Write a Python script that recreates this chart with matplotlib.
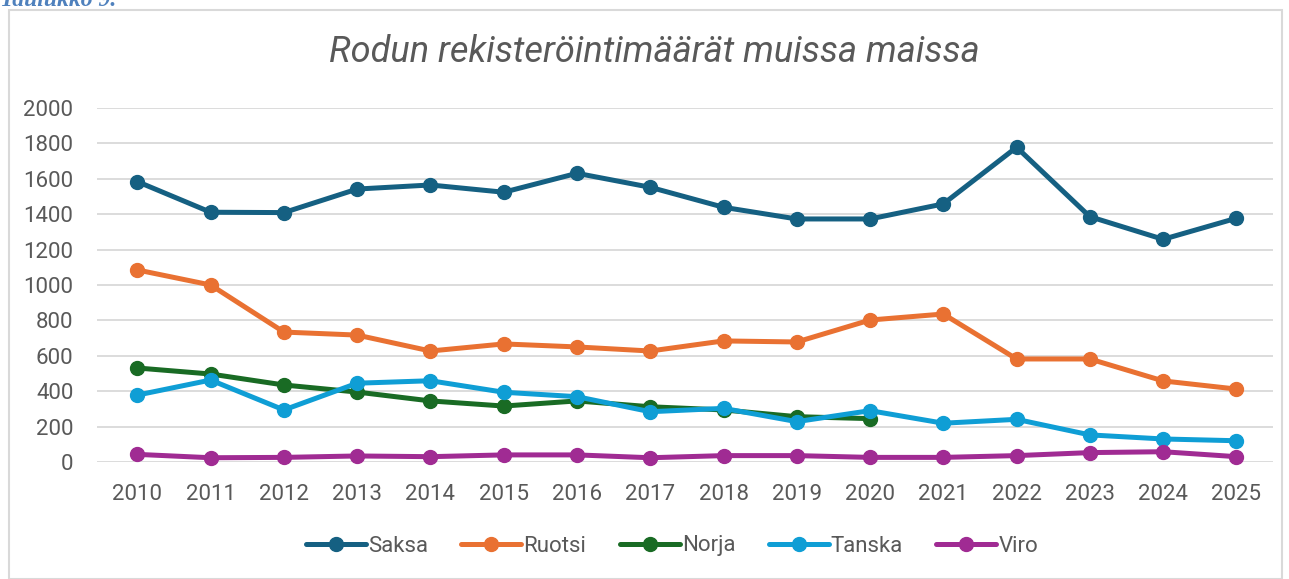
import matplotlib
matplotlib.use("Agg")
import matplotlib.pyplot as plt
from matplotlib.patches import Rectangle

years = list(range(2010, 2026))
saksa = [1584, 1411, 1409, 1542, 1565, 1524, 1631, 1552, 1439, 1373, 1373, 1458, 1778, 1386, 1258, 1377]
ruotsi = [1085, 1000, 734, 717, 627, 667, 650, 627, 684, 678, 802, 836, 582, 582, 458, 412]
norja_years = list(range(2010, 2021))
norja = [531, 497, 435, 395, 345, 316, 345, 312, 294, 256, 245]
tanska = [378, 463, 294, 445, 459, 394, 369, 284, 303, 228, 290, 219, 241, 153, 130, 120]
viro = [43, 24, 26, 34, 30, 40, 40, 24, 36, 36, 26, 26, 36, 53, 58, 30]

plt.rcParams['font.family'] = ['Roboto', 'DejaVu Sans']

fig = plt.figure(figsize=(12.89, 5.79), dpi=100)
ax = fig.add_axes([0.0753, 0.2021, 0.9123, 0.6114])

# chart border + cut-off caption above it
fig.patches.append(Rectangle((9/1289, 0), 1273/1289, 1 - 10/579, transform=fig.transFigure,
                             fill=False, edgecolor='#D9D9D9', linewidth=1.5))
fig.text(0.0, 1 - 6/579, "Taulukko 9.", color='#4F81BD', fontsize=17, style='italic',
         weight='bold', family='Liberation Serif', va='baseline')

series = [
    ("Saksa", years, saksa, '#156082'),
    ("Ruotsi", years, ruotsi, '#E97132'),
    ("Norja", norja_years, norja, '#196B24'),
    ("Tanska", years, tanska, '#0F9ED5'),
    ("Viro", years, viro, '#A02B93'),
]
for name, xs, ys, col in series:
    ax.plot(xs, ys, color=col, lw=3.6, marker='o', ms=10, label=name,
            solid_capstyle='round', clip_on=False)

ax.set_xlim(2009.45, 2025.5)
ax.set_ylim(0, 2000)
ax.set_yticks(range(0, 2001, 200))
ax.set_xticks(years)
ax.grid(axis='y', color='#D9D9D9', lw=1.3)
ax.set_axisbelow(True)
for s in ax.spines.values():
    s.set_visible(False)
ax.tick_params(length=0, labelsize=16, colors='#595959')
ax.tick_params(axis='x', pad=16)
ax.tick_params(axis='y', pad=17)

fig.text(0.508, 1 - 52/579, "Rodun rekisteröintimäärät muissa maissa", ha='center', va='center',
         fontsize=26, style='italic', color='#595959')

fig.legend(loc='center', bbox_to_anchor=(672/1289, 1 - 546/579), ncol=5, frameon=False,
           fontsize=16, labelcolor='#595959', handlelength=2.7, handletextpad=0.1, columnspacing=1.5)

fig.savefig("out.png", dpi=100)
